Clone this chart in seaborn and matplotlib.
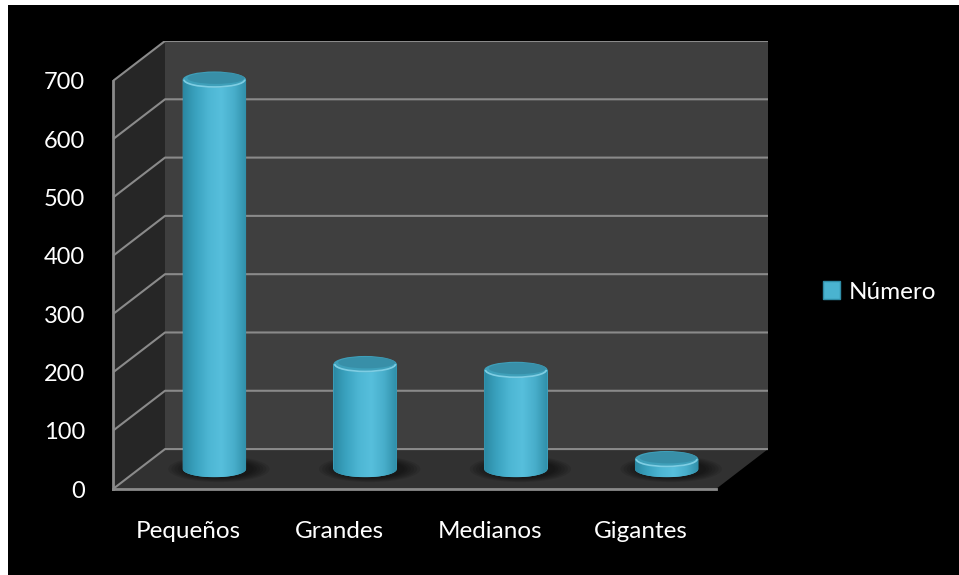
import numpy as np
import pandas as pd
import seaborn as sns
import matplotlib.pyplot as plt
from matplotlib.patches import Polygon, Ellipse, Rectangle, Patch, Arc
from matplotlib.transforms import Affine2D
from matplotlib.colors import LinearSegmentedColormap

# data
categorias = ["Pequeños", "Grandes", "Medianos", "Gigantes"]
numero = [668, 180, 170, 17]
yticks = [0, 100, 200, 300, 400, 500, 600, 700]
serie = "Número"

sns.set_style("dark")
plt.rcParams['font.family'] = ['Lato', 'DejaVu Sans']

df = pd.DataFrame({"Tipo": categorias, serie: numero})

# fake 3D depth (in data units)
DX, DY = 0.345, 68.5
EH = 28  # ellipse height of the cylinder caps
grid_col = '#8a8a8a'
cyl = LinearSegmentedColormap.from_list(
    "cyl", ['#2b88a2', '#3aa2bf', '#4db6d3', '#57bfdc', '#48aecb', '#2f8ea8'])

fig = plt.figure(figsize=(9.59, 5.75), dpi=100, facecolor='white')
fig.add_artist(Rectangle((8 / 959, 0), 1, 1 - 5 / 575, transform=fig.transFigure,
                         facecolor='black', edgecolor='none', zorder=-10))
ax = fig.add_axes([113 / 959, 86 / 575, 655 / 959, 448 / 575])
ax.set_facecolor('none')

sns.barplot(data=df, x="Tipo", y=serie, color='#4ab3d0', saturation=1,
            width=0.42, linewidth=0, ax=ax, zorder=3)
bars = list(ax.patches)

# walls and floor
ax.add_patch(Polygon([(-0.5, 0), (-0.5, 700), (-0.5 + DX, 700 + DY), (-0.5 + DX, DY)],
                     fc='#262626', ec='none', zorder=0.5))
ax.add_patch(Polygon([(-0.5 + DX, DY), (-0.5 + DX, 700 + DY), (3.5 + DX, 700 + DY), (3.5 + DX, DY)],
                     fc='#3f3f3f', ec='none', zorder=0.5))
ax.add_patch(Polygon([(-0.5, 0), (3.5, 0), (3.5 + DX, DY), (-0.5 + DX, DY)],
                     fc='#313131', ec='none', zorder=0.6))
for v in yticks:
    ax.plot([-0.5, -0.5 + DX, 3.5 + DX], [v, v + DY, v + DY], color=grid_col, lw=1.5, zorder=0.8)

# cylinders sit halfway into the depth
mid = Affine2D().translate(DX / 2, DY / 2) + ax.transData
grad = np.linspace(0, 1, 256).reshape(1, -1)
for bar in bars:
    x0, w, h = bar.get_x(), bar.get_width(), bar.get_height()
    xc = x0 + w / 2
    bar.set_transform(mid)
    # soft shadow on the floor
    for k in range(6):
        ax.add_patch(Ellipse((xc + 0.03, 0), w * (1.6 - 0.1 * k), EH * (1.6 - 0.1 * k),
                             transform=mid, fc='black', ec='none', alpha=0.1, zorder=2))
    th = np.linspace(np.pi, 2 * np.pi, 60)
    body = [(x0, h)] + list(zip(xc + w / 2 * np.cos(th), EH / 2 * np.sin(th))) + [(x0 + w, h)]
    body_patch = Polygon(body, closed=True, transform=mid, fc='#4ab3d0', ec='none', zorder=3)
    ax.add_patch(body_patch)
    im = ax.imshow(grad, cmap=cyl, extent=(x0, x0 + w, -EH / 2, h), aspect='auto',
                   transform=mid, zorder=3.1, interpolation='bilinear')
    im.set_clip_path(body_patch)
    ax.add_patch(Ellipse((xc, h), w, EH, transform=mid, fc='#3fa0ba', ec='none', zorder=4))
    ax.add_patch(Ellipse((xc + 0.01, h + 2.5), w * 0.9, EH * 0.7, transform=mid,
                         fc='#388fa8', ec='none', zorder=4.1))
    ax.add_patch(Arc((xc, h), w * 0.96, EH * 0.9, theta1=195, theta2=345, transform=mid,
                     color='#86d3e8', lw=1.2, alpha=0.9, zorder=4.2))

ax.set_xlim(-0.5, 3.5 + DX)
ax.set_ylim(0, 700 + DY)
ax.grid(False)
ax.set_xlabel('')
ax.set_ylabel('')

ax.set_yticks(yticks)
ax.set_xticks([-0.5, 0.5, 1.5, 2.5, 3.5])
ax.set_xticklabels([])
ax.set_xticks(range(len(categorias)), minor=True)
ax.set_xticklabels(categorias, minor=True)
ax.tick_params(axis='x', which='major', length=10, width=1.5, color=grid_col)
ax.tick_params(axis='x', which='minor', length=0, pad=23, labelsize=17.5, labelcolor='white')
ax.tick_params(axis='y', length=8, width=1.5, color=grid_col, labelcolor='white',
               labelsize=17, pad=12)
for s in ['top', 'right']:
    ax.spines[s].set_visible(False)
ax.spines['left'].set_bounds(0, 700)
ax.spines['bottom'].set_bounds(-0.5, 3.5)
for s in ['left', 'bottom']:
    ax.spines[s].set_color(grid_col)
    ax.spines[s].set_linewidth(2)

handle = Patch(facecolor='#4ab3d0', edgecolor='#2f8ca6')
fig.legend(handles=[handle], labels=[serie], loc='center left',
           bbox_to_anchor=(823 / 959, 1 - 292 / 575), frameon=False, fontsize=17.5,
           labelcolor='white', handlelength=0.7, handleheight=0.7,
           handletextpad=0.35, borderpad=0, borderaxespad=0)

fig.savefig('out.png', dpi=100, facecolor=fig.get_facecolor())
